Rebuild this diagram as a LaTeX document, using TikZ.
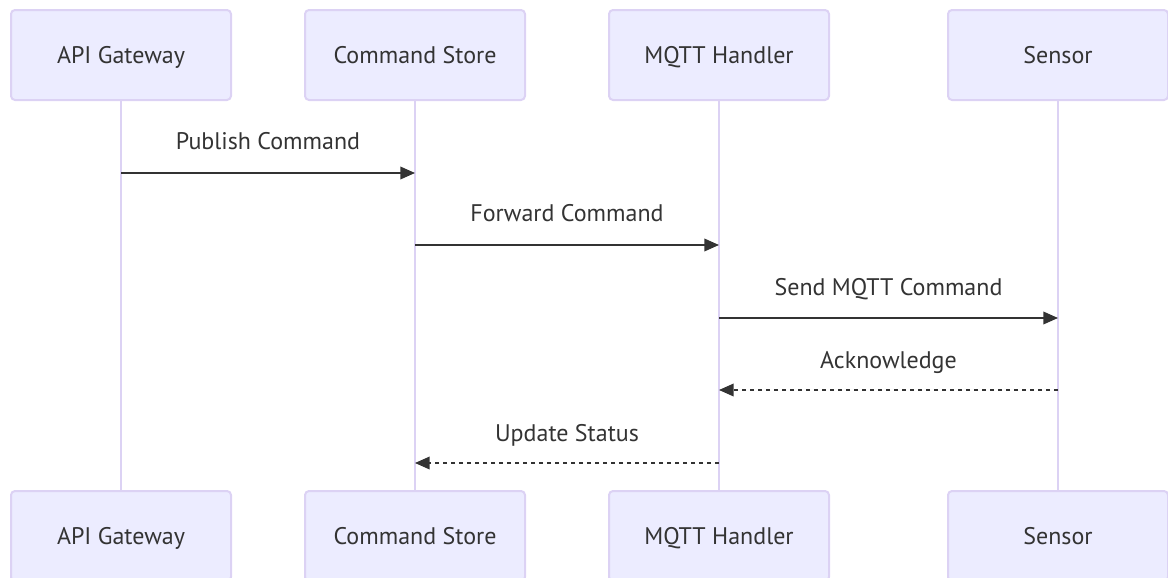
\documentclass[tikz,border=0pt]{standalone}
\usepackage{fontspec}
\setmainfont{PT Sans}
\usetikzlibrary{arrows.meta}
\definecolor{actfill}{HTML}{ECECFF}
\definecolor{actline}{HTML}{DCD2F4}
\definecolor{txt}{HTML}{333333}
\tikzset{
  actor/.style={draw=actline, line width=1.5pt, fill=actfill, rounded corners=3pt,
    minimum width=165pt, minimum height=67.5pt, inner sep=0pt, text=txt,
    font=\fontsize{18}{21}\selectfont},
  lifeline/.style={draw=actline, line width=1.6pt},
  msg/.style={draw=txt, line width=1.1pt, -{Triangle[length=11pt,width=9.5pt]}},
  reply/.style={msg, dash pattern=on 3pt off 3pt},
  lbl/.style={text=txt, font=\fontsize{18}{21}\selectfont, inner sep=0pt,
    text height=12.5pt, text depth=3.5pt}
}
\begin{document}
\begin{tikzpicture}[x=0.75pt,y=-0.75pt]
\useasboundingbox (0,0) rectangle (1168,578);
\clip (0,0) rectangle (1168,578);
% lifelines
\foreach \x/\n in {121/a,415/b,719/c,1058/d}{
  \coordinate (\n top) at (\x,100);
  \coordinate (\n bot) at (\x,491);
  \draw[lifeline] (\n top) -- (\n bot);
}
% actors
\node[actor] (gw) at (121,55) {};
\node[actor] (cs) at (415,55) {};
\node[actor] (mq) at (719,55) {};
\node[actor] (se) at (1058,55) {};
\node[actor] (gw2) at (121,536) {};
\node[actor] (cs2) at (415,536) {};
\node[actor] (mq2) at (719,536) {};
\node[actor] (se2) at (1058,536) {};
\foreach \n/\t in {gw/API Gateway, cs/Command Store, mq/MQTT Handler, se/Sensor,
  gw2/API Gateway, cs2/Command Store, mq2/MQTT Handler, se2/Sensor}{
  \node[lbl] at ([yshift=-2]\n.center) {\t};
}
% message points
\coordinate (m1s) at (121,173); \coordinate (m1e) at (415,173);
\coordinate (m2s) at (415,245); \coordinate (m2e) at (719,245);
\coordinate (m3s) at (719,318); \coordinate (m3e) at (1058,318);
\coordinate (m4s) at (1058,390); \coordinate (m4e) at (719,390);
\coordinate (m5s) at (719,463); \coordinate (m5e) at (415,463);
\draw[msg] (m1s) -- (m1e);
\draw[msg] (m2s) -- (m2e);
\draw[msg] (m3s) -- (m3e);
\draw[reply] (m4s) -- (m4e);
\draw[reply] (m5s) -- (m5e);
\node[lbl] (l1) at (268,143) {Publish Command};
\node[lbl] (l2) at (567,215) {Forward Command};
\node[lbl] (l3) at (888.5,289) {Send MQTT Command};
\node[lbl] (l4) at (888.5,362) {Acknowledge};
\node[lbl] (l5) at (567,435) {Update Status};
\end{tikzpicture}
\end{document}
